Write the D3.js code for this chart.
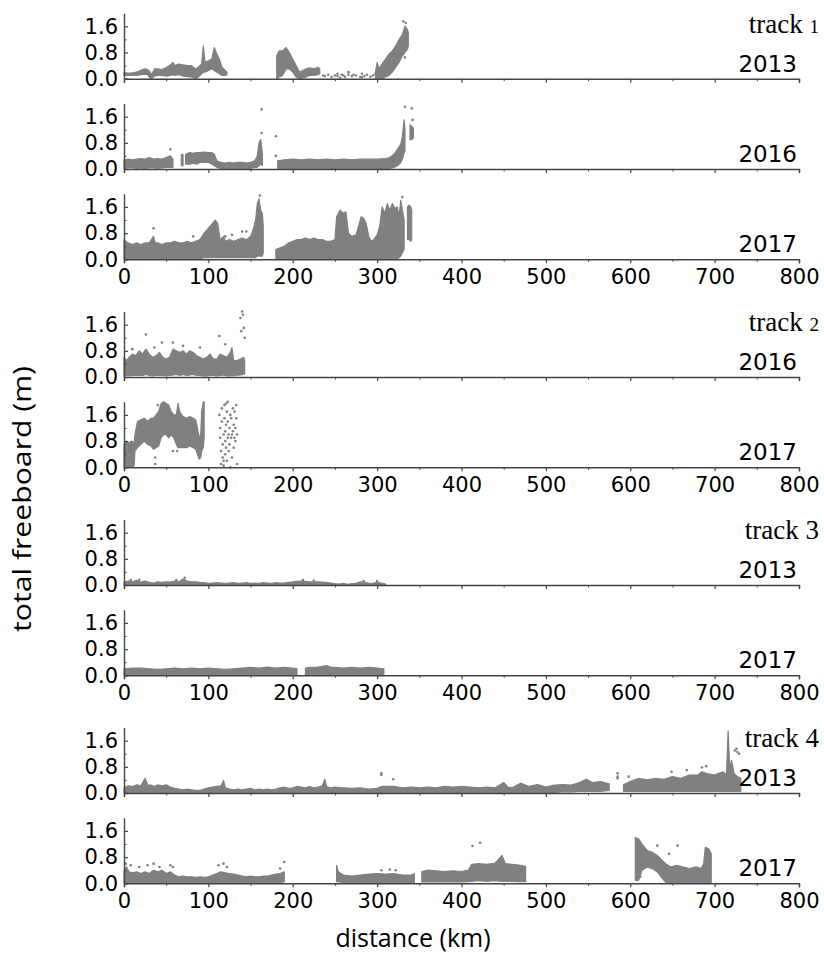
<!DOCTYPE html>
<html><head><meta charset="utf-8">
<script src="https://cdn.jsdelivr.net/npm/d3@7"></script>
<style>html,body{margin:0;padding:0;background:#fff;}svg{display:block;}</style>
</head><body>
<svg id="chart" width="824" height="958"></svg>
<script>
// ---------- data (distance km, freeboard m) ----------
const xTickValues = [0,100,200,300,400,500,600,700,800];
const xMinorTicks = [50,150,250,350,450,550,650,750];
const yTickValues = [0.0,0.8,1.6];
const yMinorTicks = [0.4,1.2];
const trackLabels = ["1","2","3","4"];
const yearLabels = ["2013","2016","2017","2016","2017","2013","2017","2013","2017"];

// bands: segments of [km, low, high]
const t1_2013_bands = [
 [[0,0.10,0.18],[5,0.10,0.17],[10,0.11,0.18],[15,0.10,0.2],[20,0.12,0.26],[25,0.14,0.3],[28,0.12,0.28],[31,0.02,0.2],[33,0.0,0.12],[36,0.08,0.3],[40,0.1,0.3],[45,0.1,0.28],[50,0.08,0.34],[55,0.1,0.42],[58,0.12,0.5],[60,0.1,0.4],[65,0.12,0.45],[70,0.08,0.42],[75,0.06,0.4],[80,0.05,0.4],[85,0.0,0.3],[88,0.05,0.35],[92,0.15,0.45],[94,0.2,1.0],[96,0.2,0.5],[100,0.25,0.55],[104,0.3,0.6],[107,0.25,0.95],[110,0.2,0.75],[113,0.15,0.6],[116,0.1,0.35],[120,0.1,0.25],[122,0.12,0.2]],
 [[181,0.0,0.7],[184,0.05,0.85],[188,0.1,0.85],[192,0.3,0.95],[196,0.3,0.8],[200,0.2,0.6],[204,0.05,0.4],[208,0.0,0.2],[212,0.02,0.25],[216,0.05,0.3],[220,0.1,0.33],[225,0.1,0.3],[230,0.12,0.35],[232,0.15,0.3]],
 [[298,0.0,0.2],[300,0.0,0.5],[302,0.0,0.3],[306,0.0,0.45],[310,0.05,0.6],[314,0.1,0.75],[318,0.2,0.85],[322,0.35,1.0],[326,0.5,1.2],[330,0.7,1.35],[333,0.8,1.6],[336,0.9,1.5],[337,1.0,1.4]]
];
const t1_2013_points = [[236,0.1],[238,0.08],[242,0.12],[246,0.05],[250,0.1],[253,0.15],[256,0.03],[258,0.12],[260,0.1],[262,0.06],[266,0.2],[270,0.08],[272,0.12],[275,0.1],[280,0.05],[282,0.15],[285,0.08],[288,0.12],[292,0.06],[295,0.1],[298,0.15],[331,1.75],[334,1.7],[333,0.65],[266,0.12],[253,0.08],[282,0.05]];

const t1_2016_bands = [
 [[0,0.02,0.28],[5,0.03,0.3],[10,0.03,0.28],[15,0.02,0.3],[20,0.03,0.32],[25,0.02,0.3],[30,0.03,0.35],[35,0.03,0.3],[40,0.02,0.32],[45,0.03,0.3],[50,0.05,0.35],[55,0.05,0.4],[58,0.05,0.3]],
 [[68,0.1,0.45],[70,0.1,0.45]],
 [[73,0.15,0.45],[78,0.15,0.5],[82,0.18,0.48],[86,0.15,0.5],[90,0.2,0.5],[95,0.2,0.52],[100,0.2,0.5],[104,0.15,0.5],[107,0.1,0.45],[110,0.05,0.25],[115,0.02,0.2],[120,0.02,0.18],[125,0.02,0.2],[130,0.02,0.18],[135,0.02,0.2],[140,0.02,0.2],[145,0.02,0.18],[150,0.02,0.2],[155,0.05,0.25],[158,0.05,0.4],[160,0.1,0.8],[162,0.15,0.9],[164,0.1,0.5]],
 [[182,0.0,0.25],[190,0.02,0.28],[200,0.02,0.3],[210,0.02,0.28],[220,0.02,0.3],[230,0.02,0.28],[240,0.02,0.3],[250,0.02,0.28],[260,0.02,0.3],[270,0.02,0.28],[280,0.02,0.3],[290,0.02,0.3],[300,0.02,0.3],[310,0.02,0.32],[315,0.02,0.35],[320,0.05,0.45],[324,0.1,0.6],[328,0.2,0.75],[330,0.3,1.0],[332,0.5,1.5],[333,0.55,1.2]],
 [[339,0.9,1.35],[341,0.9,1.3],[343,0.95,1.25]]
];
const t1_2016_points = [[55,0.6],[163,1.82],[163,1.1],[180,1.0],[180,0.4],[333,1.9],[341,1.85],[342,1.5]];

const t1_2017_bands = [
 [[0,0.02,0.6],[5,0.02,0.5],[10,0.02,0.45],[15,0.02,0.5],[20,0.02,0.45],[25,0.02,0.5],[30,0.02,0.5],[35,0.02,0.7],[37,0.02,0.5],[40,0.02,0.5],[45,0.02,0.45],[50,0.02,0.5],[55,0.02,0.5],[60,0.02,0.55],[65,0.02,0.5],[70,0.02,0.5],[75,0.02,0.55],[80,0.02,0.5],[85,0.02,0.55],[90,0.02,0.6],[95,0.05,0.8],[100,0.05,0.95],[105,0.05,1.1],[108,0.05,1.2],[111,0.05,1.1],[114,0.05,0.6],[118,0.05,0.7],[120,0.05,0.55],[125,0.05,0.6],[130,0.05,0.55],[135,0.05,0.6],[140,0.05,0.65],[145,0.05,0.6],[150,0.05,0.7],[153,0.05,0.9],[156,0.05,1.2],[158,0.1,1.7],[160,0.1,1.85],[162,0.1,1.5],[164,0.1,1.4],[165,0.2,1.0]],
 [[180,0.02,0.3],[185,0.02,0.35],[190,0.02,0.4],[195,0.02,0.5],[200,0.02,0.55],[205,0.02,0.6],[210,0.02,0.6],[215,0.02,0.65],[220,0.02,0.6],[225,0.02,0.65],[230,0.02,0.6],[235,0.02,0.6],[240,0.02,0.55],[245,0.02,0.55],[250,0.02,0.6],[252,0.02,1.3],[256,0.02,1.5],[260,0.02,1.4],[263,0.02,1.45],[266,0.02,0.8],[270,0.02,0.7],[275,0.02,0.75],[278,0.02,1.0],[281,0.02,1.3],[284,0.02,1.25],[287,0.02,1.1],[290,0.02,0.7],[293,0.02,0.55],[296,0.02,0.6],[300,0.02,0.75],[303,0.02,1.0],[306,0.02,1.6],[309,0.02,1.4],[312,0.02,1.7],[315,0.02,1.5],[318,0.02,1.7],[321,0.02,1.55],[324,0.02,1.6],[326,0.05,1.3],[328,0.1,1.8],[330,0.2,1.5],[332,0.3,1.2]],
 [[336,0.6,1.6],[338,0.6,1.65],[340,0.55,1.6],[341,0.6,1.5]]
];
const t1_2017_points = [[35,0.95],[82,0.7],[120,0.7],[128,0.75],[140,0.85],[145,0.85],[161,1.95],[330,1.9]];

const t2_2016_bands = [
 [[0,0.03,0.6],[3,0.05,0.5],[6,0.03,0.6],[10,0.05,0.7],[14,0.05,0.65],[18,0.06,0.8],[22,0.05,0.7],[26,0.08,0.85],[30,0.05,0.7],[34,0.03,0.6],[38,0.05,0.65],[42,0.06,0.75],[46,0.05,0.6],[50,0.03,0.55],[54,0.05,0.6],[58,0.06,0.85],[62,0.08,0.8],[66,0.05,0.75],[70,0.08,0.8],[74,0.05,0.7],[78,0.06,0.8],[82,0.08,0.75],[86,0.05,0.65],[90,0.05,0.6],[94,0.03,0.55],[98,0.03,0.6],[102,0.05,0.7],[106,0.05,0.55],[110,0.03,0.55],[114,0.05,0.7],[118,0.06,0.65],[122,0.03,0.6],[126,0.03,0.75],[128,0.05,0.9],[130,0.03,0.5],[134,0.06,0.5],[138,0.06,0.55],[142,0.08,0.6],[143,0.1,0.5]]
];
const t2_2016_points = [[26,1.3],[113,1.25],[45,1.05],[58,1.05],[120,1.0],[138,1.8],[140,2.0],[141,1.9],[142,1.5],[139,1.4],[143,1.2],[36,0.9],[10,0.85],[70,0.95],[90,0.9]];

const t2_2017_bands = [
 [[0,0.0,0.7],[3,0.0,0.8],[6,0.0,0.75],[9,0.0,0.8],[12,0.05,0.75],[13,0.5,1.0],[16,0.6,1.4],[20,0.7,1.45],[24,0.8,1.5],[28,0.7,1.4],[32,0.65,1.5],[35,0.55,1.5],[38,0.6,1.6],[41,0.65,1.7],[44,0.9,1.95],[47,1.0,2.0],[50,1.0,1.95],[53,0.9,1.9],[56,1.0,1.7],[59,0.9,1.6],[62,0.7,1.6],[64,0.6,1.95],[66,0.6,1.7],[70,0.6,1.55],[74,0.6,1.5],[78,0.65,1.55],[82,0.6,1.5],[85,0.55,1.45],[87,0.4,1.2],[89,0.25,0.9],[91,0.3,1.0],[92,0.5,1.7],[94,0.6,2.0],[95,0.9,2.0]]
];
const t2_2017_points = [[37,0.1],[37,0.3],[58,0.5],[63,0.5],[40,1.9],[35,1.4],[113,1.6],[114,1.2],[114,0.9],[115,0.5],[115,0.1],[116,1.8],[116,1.4],[117,0.7],[117,0.3],[118,1.0],[118,0.2],[119,1.5],[119,1.9],[120,0.8],[120,0.4],[120,1.1],[121,1.3],[121,0.6],[122,1.7],[122,0.2],[123,0.9],[123,1.4],[124,1.0],[124,0.5],[125,1.2],[125,0.7],[126,1.6],[126,0.0],[127,0.9],[127,1.5],[128,0.3],[128,1.0],[129,1.8],[129,1.1],[130,0.6],[130,1.3],[131,1.7],[131,0.9],[132,1.2],[132,0.8],[133,1.5],[133,1.9],[134,1.0],[134,0.1],[121,1.95],[123,2.0],[118,0.05]];

const t3_2013_bands = [
 [[0,0,0.08],[5,0,0.12],[10,0,0.1],[15,0,0.14],[20,0,0.09],[25,0,0.12],[30,0,0.08],[35,0,0.06],[40,0,0.1],[45,0,0.08],[50,0,0.1],[55,0,0.09],[60,0,0.12],[65,0,0.1],[70,0,0.18],[75,0,0.12],[80,0,0.1],[85,0,0.1],[90,0,0.08],[95,0,0.07],[100,0,0.05],[105,0,0.06],[110,0,0.07],[115,0,0.06],[120,0,0.05],[125,0,0.06],[130,0,0.07],[135,0,0.05],[140,0,0.06],[145,0,0.07],[150,0,0.05],[155,0,0.06],[160,0,0.05],[165,0,0.07],[170,0,0.06],[175,0,0.05],[180,0,0.07],[185,0,0.06],[190,0,0.06],[195,0,0.08],[200,0,0.1],[205,0,0.11],[210,0,0.12],[215,0,0.11],[220,0,0.1],[225,0,0.09],[230,0,0.1],[235,0,0.09],[240,0,0.08],[245,0,0.06],[250,0,0.04],[255,0,0.03],[260,0,0.05],[265,0,0.02],[270,0,0.04],[275,0,0.05],[280,0,0.1],[285,0,0.08],[290,0,0.06],[295,0,0.05],[300,0,0.08],[305,0,0.06],[310,0,0.03]]
];
const t3_2013_points = [[8,0.15],[18,0.16],[72,0.22],[62,0.15],[212,0.15],[225,0.13],[284,0.12],[300,0.12]];

const t3_2017_bands = [
 [[0,0.02,0.2],[10,0.02,0.22],[20,0.02,0.22],[30,0.03,0.2],[40,0.02,0.18],[50,0.02,0.2],[60,0.03,0.22],[70,0.02,0.2],[80,0.02,0.22],[90,0.03,0.2],[100,0.02,0.22],[110,0.02,0.2],[120,0.03,0.18],[130,0.02,0.2],[140,0.02,0.22],[150,0.02,0.24],[160,0.03,0.22],[170,0.02,0.25],[180,0.02,0.22],[190,0.03,0.24],[200,0.02,0.22],[205,0.02,0.2]],
 [[215,0.02,0.22],[220,0.03,0.24],[230,0.02,0.25],[240,0.03,0.3],[245,0.02,0.25],[250,0.02,0.24],[260,0.03,0.22],[270,0.02,0.24],[280,0.02,0.22],[290,0.03,0.24],[300,0.02,0.22],[308,0.02,0.2]]
];
const t3_2017_points = [];

const t4_2013_bands = [
 [[0,0.02,0.15],[5,0.02,0.22],[10,0.02,0.2],[15,0.02,0.25],[20,0.02,0.22],[25,0.02,0.45],[28,0.02,0.25],[32,0.02,0.24],[36,0.02,0.2],[40,0.02,0.25],[45,0.02,0.22],[50,0.02,0.25],[55,0.02,0.18],[60,0.02,0.14],[65,0.02,0.12],[70,0.02,0.1],[75,0.02,0.12],[80,0.02,0.1],[85,0.02,0.08],[90,0.02,0.08],[95,0.02,0.12],[100,0.02,0.16],[105,0.02,0.18],[110,0.02,0.2],[115,0.02,0.22],[118,0.02,0.38],[120,0.02,0.16],[125,0.02,0.12],[130,0.02,0.1],[135,0.02,0.12],[140,0.02,0.1],[145,0.02,0.12],[150,0.02,0.14],[155,0.02,0.1],[160,0.02,0.12],[165,0.02,0.1],[170,0.02,0.12],[175,0.02,0.1],[180,0.02,0.12],[185,0.02,0.16],[190,0.02,0.18],[195,0.02,0.14],[200,0.02,0.16],[205,0.02,0.2],[210,0.02,0.18],[215,0.02,0.16],[220,0.02,0.2],[225,0.02,0.16],[230,0.02,0.18],[235,0.02,0.22],[238,0.02,0.42],[240,0.02,0.2],[245,0.02,0.16],[250,0.02,0.18],[260,0.02,0.16],[270,0.02,0.14],[280,0.02,0.16],[290,0.02,0.12],[300,0.02,0.14],[305,0.02,0.2],[310,0.02,0.2],[320,0.02,0.2],[330,0.02,0.16],[340,0.02,0.18],[350,0.02,0.16],[360,0.02,0.18],[370,0.02,0.16],[380,0.02,0.2],[390,0.02,0.18],[400,0.02,0.2],[410,0.02,0.18],[420,0.02,0.16],[430,0.02,0.18],[440,0.02,0.16],[450,0.02,0.32],[455,0.02,0.18],[460,0.02,0.16],[470,0.02,0.3],[480,0.02,0.2],[490,0.02,0.26],[500,0.02,0.18],[510,0.02,0.24],[520,0.03,0.26],[530,0.03,0.24],[540,0.05,0.32],[548,0.05,0.42],[555,0.05,0.32],[565,0.05,0.35],[575,0.08,0.28]],
 [[592,0.05,0.25],[600,0.05,0.35],[610,0.05,0.45],[620,0.05,0.4],[630,0.05,0.45],[640,0.05,0.42],[650,0.05,0.5],[660,0.05,0.45],[670,0.05,0.55],[680,0.05,0.55],[685,0.05,0.65],[690,0.05,0.6],[700,0.05,0.55],[705,0.05,0.6],[710,0.05,0.65],[714,0.05,0.55],[716,0.05,1.9],[718,0.05,0.7],[720,0.05,1.0],[723,0.05,0.6],[727,0.05,0.5],[731,0.05,0.45]]
];
const t4_2013_points = [[305,0.6],[305,0.55],[319,0.42],[585,0.6],[585,0.5],[585,0.45],[598,0.5],[649,0.65],[667,0.7],[685,0.78],[690,0.82],[724,1.3],[727,1.25],[729,1.2],[726,1.35]];

const t4_2017_bands = [
 [[0,0.02,0.4],[3,0.02,0.5],[6,0.02,0.35],[10,0.02,0.32],[15,0.02,0.35],[20,0.02,0.3],[25,0.02,0.35],[30,0.02,0.3],[35,0.02,0.4],[40,0.02,0.35],[45,0.02,0.4],[50,0.02,0.3],[55,0.02,0.35],[60,0.02,0.25],[65,0.02,0.2],[70,0.02,0.22],[75,0.02,0.2],[80,0.02,0.2],[85,0.02,0.18],[90,0.02,0.2],[95,0.02,0.18],[100,0.02,0.2],[105,0.02,0.25],[110,0.02,0.3],[115,0.02,0.35],[120,0.02,0.32],[125,0.02,0.3],[130,0.02,0.28],[135,0.02,0.25],[140,0.02,0.22],[145,0.02,0.2],[150,0.02,0.22],[155,0.02,0.2],[160,0.02,0.2],[165,0.02,0.22],[170,0.02,0.22],[175,0.02,0.25],[180,0.02,0.28],[185,0.02,0.3],[190,0.05,0.35]],
 [[252,0.05,0.55],[254,0.05,0.35],[260,0.02,0.25],[270,0.02,0.22],[280,0.02,0.25],[290,0.02,0.28],[300,0.02,0.3],[310,0.02,0.28],[320,0.02,0.3],[330,0.02,0.25],[340,0.02,0.25],[344,0.02,0.3]],
 [[353,0.04,0.36],[360,0.04,0.4],[370,0.04,0.38],[380,0.04,0.36],[390,0.04,0.38],[400,0.04,0.36],[408,0.05,0.4],[412,0.06,0.58],[420,0.08,0.6],[430,0.06,0.58],[440,0.08,0.62],[448,0.06,0.85],[452,0.06,0.6],[460,0.06,0.58],[470,0.05,0.55],[476,0.05,0.52]],
 [[606,0.1,1.4],[610,0.1,1.35],[614,0.4,1.2],[620,0.5,1.0],[626,0.45,0.95],[632,0.35,0.85],[638,0.15,0.7],[642,0.03,0.6],[648,0.03,0.5],[655,0.03,0.55],[662,0.03,0.5],[670,0.03,0.45],[678,0.03,0.5],[684,0.03,0.45],[687,0.03,0.6],[689,0.03,1.1],[693,0.03,1.05],[696,0.03,0.9]]
];
const t4_2017_points = [[2,0.6],[8,0.55],[18,0.5],[28,0.55],[35,0.6],[42,0.5],[55,0.55],[58,0.5],[112,0.55],[118,0.6],[122,0.5],[190,0.65],[185,0.45],[305,0.4],[315,0.42],[322,0.4],[413,1.14],[422,1.24],[632,1.15],[656,1.15],[646,0.9],[608,0.1],[612,0.2]];

// ---------- layout ----------
const W = 824, H = 958;
const xLeft = 124, xRight = 799;
const panelH = 65.5, panelStep = 90.3, groupGap = 27.4, firstZero = 78.7;
const groups = [[0,1,2],[3,4],[5,6],[7,8]];
const panelData = [
 [t1_2013_bands,t1_2013_points],[t1_2016_bands,t1_2016_points],[t1_2017_bands,t1_2017_points],
 [t2_2016_bands,t2_2016_points],[t2_2017_bands,t2_2017_points],
 [t3_2013_bands,t3_2013_points],[t3_2017_bands,t3_2017_points],
 [t4_2013_bands,t4_2013_points],[t4_2017_bands,t4_2017_points]
];

const svg = d3.select("#chart");
svg.append("rect").attr("width",W).attr("height",H).attr("fill","#fff");
const x = d3.scaleLinear().domain([0,800]).range([xLeft,xRight]);
const axisColor = "#444";
const dataColor = "#808080";
const tickFont = "DejaVu Sans, Liberation Sans, Arial, sans-serif";

let zero = firstZero;
groups.forEach((g, gi) => {
  g.forEach((pi, k) => {
    const y = d3.scaleLinear().domain([0,2]).range([zero, zero - panelH]);
    const gP = svg.append("g");
    const [bands, pts] = panelData[pi];
    const area = d3.area().x(d => x(d[0])).y0(d => y(d[1])).y1(d => y(d[2]));
    gP.selectAll("path.band").data(bands).join("path")
      .attr("class","band").attr("d", area)
      .attr("fill", dataColor).attr("stroke", dataColor).attr("stroke-width", 1.2)
      .attr("stroke-linejoin","round");
    gP.selectAll("circle").data(pts).join("circle")
      .attr("cx", d => x(d[0])).attr("cy", d => y(d[1])).attr("r", 1.3)
      .attr("fill", dataColor);

    // x axis
    const isBottom = (k === g.length - 1);
    const xa = svg.append("g").attr("transform", `translate(0,${zero})`)
      .call(d3.axisBottom(x).tickValues(xTickValues).tickSize(4).tickPadding(5)
        .tickFormat(isBottom ? d3.format("d") : () => ""));
    xa.select(".domain").attr("stroke", axisColor).attr("stroke-width", 1.4);
    xa.selectAll(".tick line").attr("stroke", axisColor).attr("stroke-width", 1.2);
    xa.selectAll(".tick text").attr("font-family", tickFont).attr("font-size", 21).attr("fill", "#000").attr("dy","0.74em");
    const xm = svg.append("g").attr("transform", `translate(0,${zero})`)
      .call(d3.axisBottom(x).tickValues(xMinorTicks).tickSize(2.5).tickFormat(() => ""));
    xm.select(".domain").remove();
    xm.selectAll(".tick line").attr("stroke", axisColor).attr("stroke-width", 1);

    // y axis (ticks inside)
    const ya = svg.append("g").attr("transform", `translate(${xLeft},0)`)
      .call(d3.axisLeft(y).tickValues(yTickValues).tickSizeInner(-4).tickSizeOuter(0).tickPadding(9)
        .tickFormat(d3.format(".1f")));
    ya.select(".domain").attr("stroke", axisColor).attr("stroke-width", 1.4);
    ya.selectAll(".tick line").attr("stroke", axisColor).attr("stroke-width", 1.2);
    ya.selectAll(".tick text").attr("font-family", tickFont).attr("font-size", 21).attr("fill", "#000").attr("x", -6);
    const ym = svg.append("g").attr("transform", `translate(${xLeft},0)`)
      .call(d3.axisLeft(y).tickValues(yMinorTicks).tickSizeInner(-2.5).tickSizeOuter(0).tickFormat(() => ""));
    ym.select(".domain").remove();
    ym.selectAll(".tick line").attr("stroke", axisColor).attr("stroke-width", 1);

    // year label
    svg.append("text").attr("x", 797).attr("y", zero - 7)
      .attr("text-anchor","end").attr("font-family", tickFont).attr("font-size", 23)
      .attr("fill","#000").text(yearLabels[pi]);

    if (k === 0) {
      const smallNum = (gi < 2);
      const t = svg.append("text").attr("x", 819).attr("y", zero - 46)
        .attr("text-anchor","end").attr("font-family","Liberation Serif, Times New Roman, serif")
        .attr("font-size", 27).attr("fill","#000");
      t.append("tspan").text("track ");
      t.append("tspan").attr("font-size", smallNum ? 19 : 27).text(trackLabels[gi]);
    }
    if (k < g.length - 1) zero += panelStep;
  });
  zero += panelStep + groupGap;
});

// axis titles
svg.append("text").attr("transform", "translate(31,499) rotate(-90)")
  .attr("text-anchor","middle").attr("font-family","Open Sans, Noto Sans, sans-serif")
  .attr("font-size", 26).attr("fill","#000")
  .attr("textLength", 266).attr("lengthAdjust","spacingAndGlyphs")
  .text("total freeboard (m)");
svg.append("text").attr("x", 413).attr("y", 947)
  .attr("text-anchor","middle").attr("font-family","Open Sans, Noto Sans, sans-serif")
  .attr("font-size", 25).attr("fill","#000").text("distance (km)");
</script>
</body></html>
